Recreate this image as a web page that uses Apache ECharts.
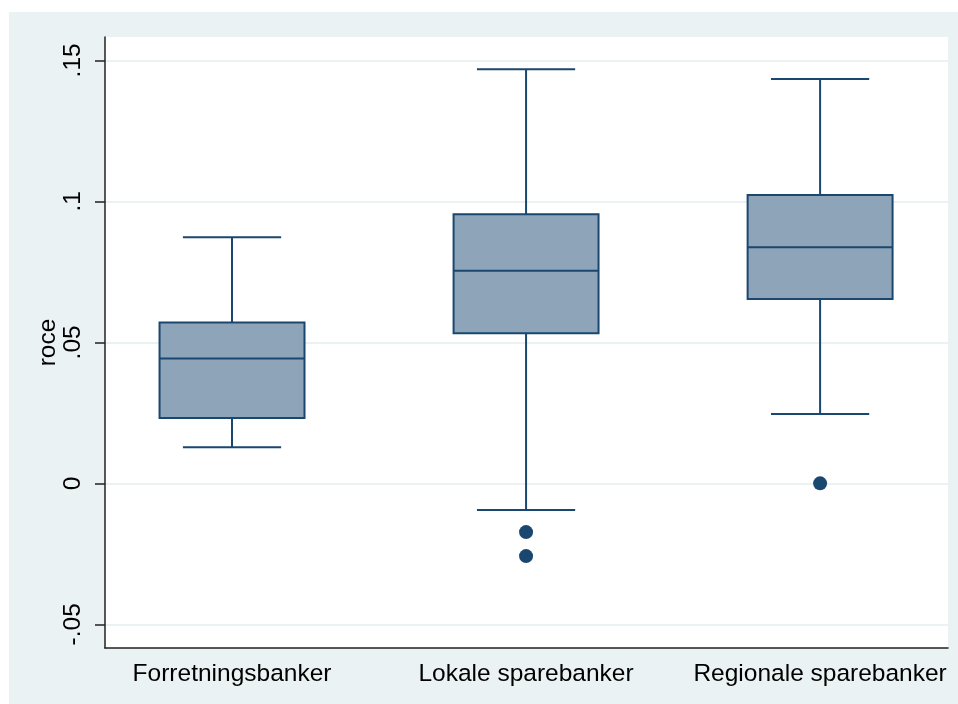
<!DOCTYPE html>
<html>
<head>
<meta charset="utf-8">
<script src="https://cdn.jsdelivr.net/npm/echarts@6/dist/echarts.min.js"></script>
<style>
  html, body { margin: 0; padding: 0; background: #ffffff; }
  #chart { width: 958px; height: 704px; }
</style>
</head>
<body>
<div id="chart"></div>
<script>
// Bank groups along the x axis
const categories = ['Forretningsbanker', 'Lokale sparebanker', 'Regionale sparebanker'];

// Box summaries of roce per group: lower whisker, Q1, median, Q3, upper whisker
const lowerWhisker = [0.0128, -0.0095, 0.0246];
const quartile1    = [0.0232, 0.0532, 0.0654];
const medians      = [0.0443, 0.0754, 0.0837];
const quartile3    = [0.0570, 0.0954, 0.1023];
const upperWhisker = [0.0873, 0.1469, 0.1434];

// Outside values: [group index, roce]
const outliers = [[1, -0.0173], [1, -0.0258], [2, 0.0]];

// y-axis ticks and their printed labels
const yTicks = [-0.05, 0, 0.05, 0.1, 0.15];
const yTickLabels = ['-.05', '0', '.05', '.1', '.15'];

const NAVY = '#1a476f';
const BOX_FILL = '#8ea4b9';
const BG = '#eaf2f3';
const FONT = "'Liberation Sans', Arial, sans-serif";

const boxData = categories.map((c, i) => [i, lowerWhisker[i], quartile1[i], medians[i], quartile3[i], upperWhisker[i]]);

function renderBox(params, api) {
  const i = api.value(0);
  const band = api.size([1, 0])[0];
  const boxHalf = band * 0.2465;
  const capHalf = band * 0.167;
  const lo = api.coord([i, api.value(1)]);
  const q1 = api.coord([i, api.value(2)]);
  const md = api.coord([i, api.value(3)]);
  const q3 = api.coord([i, api.value(4)]);
  const hi = api.coord([i, api.value(5)]);
  const x = lo[0];
  const lineStyle = { stroke: NAVY, lineWidth: 2, fill: null };
  return {
    type: 'group',
    children: [
      { type: 'line', shape: { x1: x, y1: hi[1], x2: x, y2: q3[1] }, style: lineStyle },
      { type: 'line', shape: { x1: x, y1: q1[1], x2: x, y2: lo[1] }, style: lineStyle },
      { type: 'line', shape: { x1: x - capHalf, y1: hi[1], x2: x + capHalf, y2: hi[1] }, style: lineStyle },
      { type: 'line', shape: { x1: x - capHalf, y1: lo[1], x2: x + capHalf, y2: lo[1] }, style: lineStyle },
      { type: 'rect', shape: { x: x - boxHalf, y: q3[1], width: boxHalf * 2, height: q1[1] - q3[1] },
        style: { fill: BOX_FILL, stroke: NAVY, lineWidth: 2 } },
      { type: 'line', shape: { x1: x - boxHalf, y1: md[1], x2: x + boxHalf, y2: md[1] }, style: lineStyle }
    ]
  };
}

const chart = echarts.init(document.getElementById('chart'), null, { renderer: 'canvas' });
chart.setOption({
  backgroundColor: '#ffffff',
  animation: false,
  graphic: [{
    type: 'rect', z: -100, silent: true,
    shape: { x: 9, y: 12, width: 949, height: 692 },
    style: { fill: BG }
  }],
  grid: {
    left: 105, right: 10, top: 37, bottom: 56,
    show: true, backgroundColor: '#ffffff', borderWidth: 0
  },
  xAxis: {
    type: 'value',
    min: -0.432, max: 2.435,
    axisLine: { show: true, onZero: false, lineStyle: { color: '#222', width: 1.5 } },
    axisTick: { show: false },
    splitLine: { show: false },
    axisLabel: {
      customValues: [0, 1, 2],
      formatter: v => categories[Math.round(v)] || '',
      color: '#000', fontFamily: FONT, fontSize: 24.5, margin: 14
    }
  },
  yAxis: {
    type: 'value',
    min: -0.0584, max: 0.1583,
    name: 'roce', nameLocation: 'middle', nameGap: 44, nameMoveOverlap: false,
    nameTextStyle: { color: '#000', fontFamily: FONT, fontSize: 24.5 },
    axisLine: { show: true, onZero: false, lineStyle: { color: '#222', width: 1.5 } },
    axisTick: { show: true, customValues: yTicks, length: 10, lineStyle: { color: '#222', width: 1.5 } },
    axisLabel: {
      customValues: yTicks,
      formatter: v => {
        const k = yTicks.findIndex(t => Math.abs(t - v) < 1e-9);
        return k >= 0 ? yTickLabels[k] : '';
      },
      rotate: 90, margin: 19,
      color: '#000', fontFamily: FONT, fontSize: 24.5
    },
    splitLine: { show: true, lineStyle: { color: '#e6eef1', width: 1.5 } }
  },
  series: [
    {
      type: 'custom',
      renderItem: renderBox,
      data: boxData,
      encode: { x: 0, y: [1, 2, 3, 4, 5] },
      z: 3
    },
    {
      type: 'scatter',
      data: outliers,
      symbol: 'circle', symbolSize: 14,
      itemStyle: { color: NAVY, opacity: 1 },
      z: 4
    }
  ]
});
</script>
</body>
</html>
